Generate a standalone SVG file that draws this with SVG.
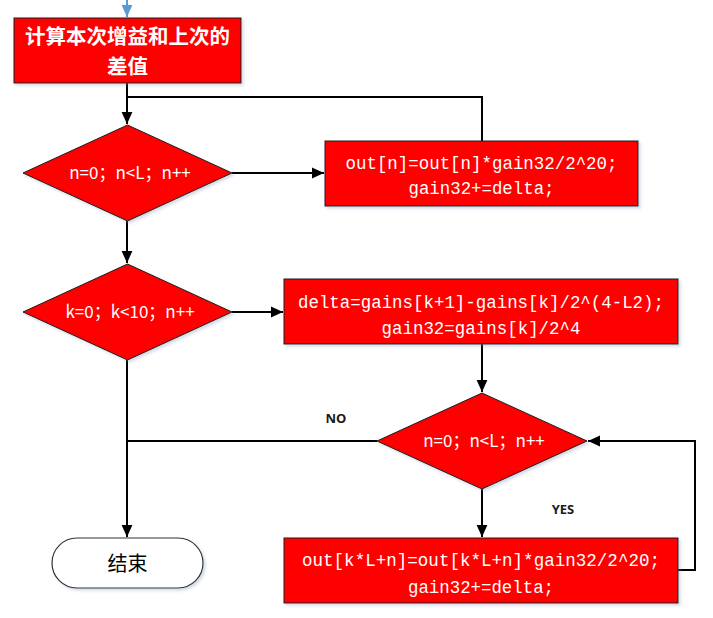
<svg xmlns="http://www.w3.org/2000/svg" width="713" height="618" viewBox="0 0 713 618">
<style>
.box{fill:#ff0000;stroke:#1a1a1a;stroke-width:1}
.dia{fill:#ff0000;stroke:#1a1a1a;stroke-width:1}
.term{fill:#ffffff;stroke:#333333;stroke-width:1.2}
.con{fill:none;stroke:#000000;stroke-width:2}
.blue{fill:none;stroke:#5b9bd5;stroke-width:2}
.code{font-family:"Liberation Mono","DejaVu Sans Mono",monospace;font-size:18.5px;fill:#ffffff;text-anchor:middle}
.dtx{font-family:"Noto Sans CJK SC","Noto Sans",sans-serif;font-size:17px;fill:#ffffff;text-anchor:middle}
.ttl{font-family:"Noto Sans CJK SC",sans-serif;font-size:20.5px;font-weight:bold;fill:#ffffff;text-anchor:middle}
.lbl{font-family:"Open Sans","Liberation Sans",sans-serif;font-size:13px;font-weight:bold;fill:#1a1a1a;text-anchor:middle}
.end{font-family:"Noto Sans CJK SC",sans-serif;font-size:20px;fill:#000000;text-anchor:middle}
</style>
<defs>
<marker id="ah" markerUnits="userSpaceOnUse" markerWidth="12" markerHeight="12" viewBox="0 0 10 10" refX="10" refY="5" orient="auto">
<path d="M0,0.5 L10,5 L0,9.5 z" fill="#000000"/>
</marker>
<marker id="ahb" markerUnits="userSpaceOnUse" markerWidth="12" markerHeight="12" viewBox="0 0 10 10" refX="10" refY="5" orient="auto">
<path d="M0,0.5 L10,5 L0,9.5 z" fill="#5b9bd5"/>
</marker>
<filter id="sh" x="-5%" y="-5%" width="112%" height="125%">
<feDropShadow dx="2" dy="2" stdDeviation="1.5" flood-color="#8090b0" flood-opacity="0.35"/>
</filter>
</defs>

<g id="connectors">
<path class="blue" d="M127,0 V17" marker-end="url(#ahb)"/>
<path class="con" d="M127,83 V124" marker-end="url(#ah)"/>
<path class="con" d="M482,141 V97 H127"/>
<path class="con" d="M232,173 H324" marker-end="url(#ah)"/>
<path class="con" d="M127,221 V263" marker-end="url(#ah)"/>
<path class="con" d="M232,312 H283" marker-end="url(#ah)"/>
<path class="con" d="M482,344 V392" marker-end="url(#ah)"/>
<path class="con" d="M377,441 H127"/>
<path class="con" d="M127,360 V537" marker-end="url(#ah)"/>
<path class="con" d="M482,489 V537" marker-end="url(#ah)"/>
<path class="con" d="M678,570 H695 V441 H588" marker-end="url(#ah)"/>
<text class="lbl" x="336" y="423">NO</text>
<text class="lbl" x="563" y="514">YES</text>
</g>

<g id="calc">
<rect class="box" x="14" y="18" width="227" height="65" filter="url(#sh)"/>
<text class="ttl"><tspan x="127.5" y="44">计算本次增益和上次的</tspan><tspan x="127.5" y="74">差值</tspan></text>
</g>

<g id="loop1">
<polygon class="dia" points="127.5,125 232,173 127.5,221 23,173" filter="url(#sh)"/>
<text class="dtx" x="130" y="179">n=0；n&lt;L；n++</text>
</g>

<g id="body1">
<rect class="box" x="325" y="141" width="313" height="65" filter="url(#sh)"/>
<text class="code" x="481.5" y="169" textLength="272" lengthAdjust="spacingAndGlyphs">out[n]=out[n]*gain32/2^20;</text>
<text class="code" x="481.5" y="194" textLength="146" lengthAdjust="spacingAndGlyphs">gain32+=delta;</text>
</g>

<g id="loop2">
<polygon class="dia" points="127.5,264 232,312 127.5,360 23,312" filter="url(#sh)"/>
<text class="dtx" x="130" y="318">k=0；k&lt;10；n++</text>
</g>

<g id="body2">
<rect class="box" x="284" y="279" width="394" height="65" filter="url(#sh)"/>
<text class="code" x="481" y="308" textLength="366" lengthAdjust="spacingAndGlyphs">delta=gains[k+1]-gains[k]/2^(4-L2);</text>
<text class="code" x="481" y="334" textLength="199" lengthAdjust="spacingAndGlyphs">gain32=gains[k]/2^4</text>
</g>

<g id="loop3">
<polygon class="dia" points="482,393 587,441 482,489 377,441" filter="url(#sh)"/>
<text class="dtx" x="484" y="447">n=0；n&lt;L；n++</text>
</g>

<g id="body3">
<rect class="box" x="284" y="538" width="394" height="65" filter="url(#sh)"/>
<text class="code" x="481" y="566" textLength="358" lengthAdjust="spacingAndGlyphs">out[k*L+n]=out[k*L+n]*gain32/2^20;</text>
<text class="code" x="481" y="593" textLength="146" lengthAdjust="spacingAndGlyphs">gain32+=delta;</text>
</g>

<g id="end">
<rect class="term" x="52" y="538" width="151" height="50" rx="25" ry="25" filter="url(#sh)"/>
<text class="end" x="127.5" y="571">结束</text>
</g>
</svg>
